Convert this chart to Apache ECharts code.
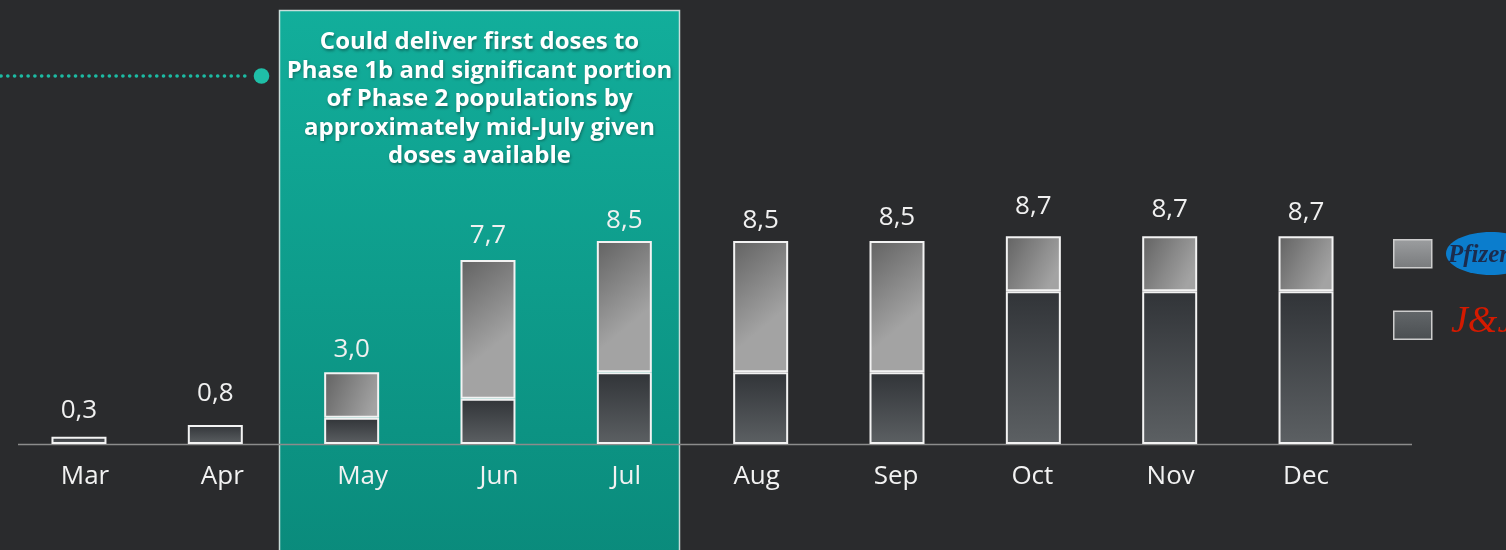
<!DOCTYPE html>
<html>
<head>
<meta charset="utf-8">
<script src="https://cdn.jsdelivr.net/npm/echarts@6/dist/echarts.min.js"></script>
<style>
  html, body { margin: 0; padding: 0; background: #2a2b2d; }
  #chart { width: 1506px; height: 550px; }
</style>
</head>
<body>
<div id="chart"></div>
<script>
// Monthly vaccine doses available (millions), stacked by manufacturer
const months = ['Mar', 'Apr', 'May', 'Jun', 'Jul', 'Aug', 'Sep', 'Oct', 'Nov', 'Dec'];
const jnjDoses = [0.3, 0.8, 1.1, 1.9, 3.0, 3.0, 3.0, 6.4, 6.4, 6.4];
const pfizerDoses = [null, null, 1.9, 5.8, 5.5, 5.5, 5.5, 2.3, 2.3, 2.3];
const seriesNames = ['Pfizer', 'J&J'];
const noteLines = [
  'Could deliver first doses to',
  'Phase 1b and significant portion',
  'of Phase 2 populations by',
  'approximately mid-July given',
  'doses available'
];

// hand-placed label tweaks: gap above each stack, horizontal nudge of month names
const totalLabelGap = [13, 18, 10, 11.5, 7.5, 7.5, 10.5, 17, 13.5, 10.5];
const monthLabelNudge = [6, 7, 11, 11, 2, -4, -1, -1, 1, 0];

const totals = months.map((m, i) => +((jnjDoses[i] || 0) + (pfizerDoses[i] || 0)).toFixed(1));
const fmt = v => v.toFixed(1).replace('.', ',');

const FONT = '"Open Sans", "Noto Sans", sans-serif';
const BORDER = '#f3f3f3';

const jnjFill = new echarts.graphic.LinearGradient(0, 0, 0, 1, [
  { offset: 0, color: '#313438' },
  { offset: 1, color: '#5c6063' }
]);
const pfizerFill = new echarts.graphic.LinearGradient(0, 0, 1, 0.5, [
  { offset: 0, color: '#626262' },
  { offset: 1, color: '#a3a3a3' }
]);

const labelBase = {
  show: true,
  position: 'top',
  color: '#f0f0f0',
  fontSize: 26,
  fontFamily: FONT
};

// J&J carries the total label only where there is no Pfizer segment on top
const jnjData = jnjDoses.map((v, i) => ({
  value: v,
  label: Object.assign({}, labelBase, {
    show: pfizerDoses[i] == null,
    distance: totalLabelGap[i],
    formatter: fmt(totals[i])
  })
}));
const pfizerData = pfizerDoses.map((v, i) => ({
  value: v,
  label: Object.assign({}, labelBase, {
    show: v != null,
    distance: totalLabelGap[i],
    formatter: fmt(totals[i])
  })
}));

const monthData = months.map((m, i) => {
  const s = monthLabelNudge[i];
  return {
    value: m,
    textStyle: { padding: s >= 0 ? [0, 0, 0, 2 * s] : [0, -2 * s, 0, 0] }
  };
});

const chart = echarts.init(document.getElementById('chart'), null, { renderer: 'canvas' });

chart.setOption({
  backgroundColor: '#2a2b2d',
  animation: false,
  grid: { left: 10.8, right: 131.8, top: 205.2, bottom: 106 },
  xAxis: {
    type: 'category',
    data: monthData,
    axisLine: { show: false },
    axisTick: { show: false },
    axisLabel: { color: '#f2f2f2', fontSize: 26, fontFamily: FONT, margin: 20 }
  },
  yAxis: { type: 'value', min: 0, max: 10, show: false },
  legend: {
    orient: 'vertical',
    left: 1388,
    top: 234,
    itemWidth: 38,
    itemHeight: 28,
    itemGap: 42,
    icon: 'rect',
    formatter: () => '',
    itemStyle: { borderColor: '#cdcdcd', borderWidth: 1.5 },
    data: [
      { name: 'Pfizer', itemStyle: { color: new echarts.graphic.LinearGradient(0, 0, 0, 1, [
        { offset: 0, color: '#9c9ea0' }, { offset: 1, color: '#787a7c' }]) } },
      { name: 'J&J', itemStyle: { color: new echarts.graphic.LinearGradient(0, 0, 0, 1, [
        { offset: 0, color: '#63676a' }, { offset: 1, color: '#4a4e51' }]) } }
    ]
  },
  series: [
    {
      name: seriesNames[1],
      type: 'bar',
      stack: 'doses',
      barWidth: 55,
      data: jnjData,
      itemStyle: { color: jnjFill, borderColor: BORDER, borderWidth: 2 }
    },
    {
      name: seriesNames[0],
      type: 'bar',
      stack: 'doses',
      barWidth: 55,
      data: pfizerData,
      itemStyle: { color: pfizerFill, borderColor: BORDER, borderWidth: 2 }
    }
  ],
  graphic: [
    // highlighted period panel
    {
      type: 'rect',
      z: 0,
      shape: { x: 279.5, y: 10.5, width: 400, height: 560 },
      style: {
        fill: new echarts.graphic.LinearGradient(0, 0, 0, 1, [
          { offset: 0, color: '#12ae9b' },
          { offset: 1, color: '#0a8a7b' }
        ]),
        stroke: 'rgba(230,242,240,0.85)',
        lineWidth: 1.5
      }
    },
    {
      type: 'text',
      z: 1,
      style: {
        text: noteLines.join('\n'),
        x: 479.5,
        y: 99.5,
        align: 'center',
        verticalAlign: 'middle',
        fill: '#ffffff',
        fontSize: 24,
        fontWeight: 'bold',
        fontFamily: FONT,
        lineHeight: 28.5,
        textShadowColor: 'rgba(0,0,0,0.35)',
        textShadowBlur: 3,
        textShadowOffsetX: 1,
        textShadowOffsetY: 1.5
      }
    },
    // dotted pointer line into the panel
    {
      type: 'line',
      z: 1,
      shape: { x1: 1, y1: 76, x2: 250, y2: 76 },
      style: { stroke: '#1cbba3', lineWidth: 3.6, lineDash: [0.1, 6.67], lineCap: 'round' }
    },
    {
      type: 'circle',
      z: 1,
      shape: { cx: 261.5, cy: 76, r: 7.8 },
      style: { fill: '#1fbfa7' }
    },
    // baseline
    {
      type: 'line',
      z: 1,
      shape: { x1: 18, y1: 444.5, x2: 1412, y2: 444.5 },
      style: { stroke: '#8c8c8c', lineWidth: 1.5 }
    },
    // legend marks
    {
      type: 'ellipse',
      z: 1,
      shape: { cx: 1491, cy: 253.5, rx: 45, ry: 21.5 },
      style: { fill: '#0b7dcd' }
    },
    {
      type: 'text',
      z: 2,
      style: {
        text: 'Pfizer',
        x: 1448,
        y: 256,
        verticalAlign: 'middle',
        fill: '#1b2c4e',
        fontSize: 25,
        fontStyle: 'italic',
        fontWeight: 'bold',
        fontFamily: '"Liberation Serif", "DejaVu Serif", serif'
      }
    },
    {
      type: 'text',
      z: 2,
      style: {
        text: 'J&J',
        x: 1451,
        y: 322,
        verticalAlign: 'middle',
        fill: '#d41a00',
        fontSize: 38,
        fontStyle: 'italic',
        fontFamily: '"Liberation Serif", "DejaVu Serif", serif'
      }
    }
  ]
});
</script>
</body>
</html>
